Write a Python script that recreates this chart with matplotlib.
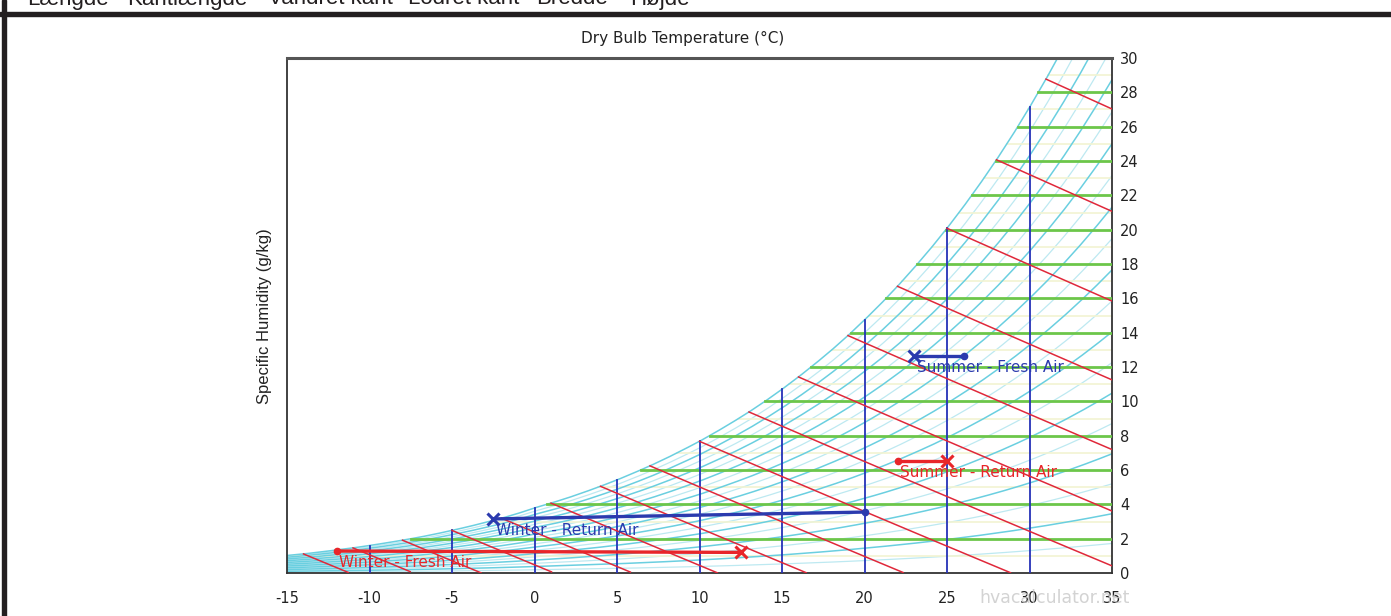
import numpy as np
import matplotlib
matplotlib.use("Agg")
import matplotlib.pyplot as plt
from matplotlib.patches import Rectangle

plt.rcParams["axes.unicode_minus"] = False

# --- saturation table (g/kg at sea level) ---
sat_temp = np.arange(-15, 36, 1)
sat_w = [1.02, 1.11, 1.22, 1.34, 1.46, 1.60, 1.75, 1.91, 2.08, 2.27,
         2.48, 2.70, 2.94, 3.19, 3.47, 3.79, 4.07, 4.37, 4.70, 5.05,
         5.42, 5.82, 6.24, 6.69, 7.17, 7.67, 8.21, 8.78, 9.38, 10.02,
         10.70, 11.42, 12.18, 12.98, 13.83, 14.74, 15.69, 16.70, 17.77, 18.89,
         20.08, 21.34, 22.67, 24.07, 25.55, 27.12, 28.77, 30.51, 32.35, 34.29,
         36.34]

rh_levels = [10, 20, 30, 40, 50, 60, 70, 80, 90, 100]
rh_half_levels = [5, 15, 25, 35, 45, 55, 65, 75, 85, 95]
dry_bulb_lines = [-10, -5, 0, 5, 10, 15, 20, 25, 30]
humidity_lines = [2, 4, 6, 8, 10, 12, 14, 16, 18, 20, 22, 24, 26, 28]
humidity_faint = [1, 3, 5, 7, 9, 11, 13, 15, 17, 19, 21, 23, 25, 27, 29]
wet_bulb_lines = [-14, -11, -8, -5, -2, 1, 4, 7, 10, 13, 16, 19, 22, 25, 28, 31]

# processes: dot end, cross end
proc_names = ["Winter - Fresh Air", "Winter - Return Air",
              "Summer - Fresh Air", "Summer - Return Air"]
proc_dot_t = [-12.0, 20.0, 26.0, 22.0]
proc_dot_w = [1.28, 3.55, 12.65, 6.55]
proc_x_t = [12.5, -2.5, 23.0, 25.0]
proc_x_w = [1.20, 3.15, 12.65, 6.55]
proc_colors = ["#e8262a", "#2b3aae", "#2b3aae", "#e8262a"]
proc_label_at = ["dot", "x", "x", "dot"]

top_words = ["Længde", "Kantlængde", "Vandret kant", "Lodret kant", "Bredde", "Højde"]
top_word_x = [27, 127, 268, 408, 536, 630]

P = 101.325
sat_t_fine = np.linspace(-15, 35, 501)
ws_fine = np.interp(sat_t_fine, sat_temp, sat_w)


def ws_at(t):
    return np.interp(t, sat_temp, sat_w)


def rh_curve(phi):
    pws = ws_fine * P / (622.0 + ws_fine)
    pw = phi / 100.0 * pws
    return 622.0 * pw / (P - pw)


def t_sat_for_w(w):
    return np.interp(w, sat_w, sat_temp)


fig = plt.figure(figsize=(13.91, 6.16), dpi=100)
W_PX, H_PX = 1391, 616

ax = fig.add_axes([287 / W_PX, 1 - 573 / H_PX, 825 / W_PX, 515 / H_PX])
ax.set_xlim(-15, 35)
ax.set_ylim(0, 30)

# relative humidity curves
for phi in rh_half_levels:
    ax.plot(sat_t_fine, rh_curve(phi), color="#bde9f1", lw=0.9, zorder=1)
for phi in rh_levels:
    ax.plot(sat_t_fine, rh_curve(phi), color="#6acfe0", lw=1.1, zorder=2)

# humidity lines
for w in humidity_faint:
    t0 = t_sat_for_w(w)
    ax.plot([t0, 35], [w, w], color="#f2f4d2", lw=1.2, zorder=1.5)
for w in humidity_lines:
    t0 = t_sat_for_w(w)
    ax.plot([t0, 35], [w, w], color="#6cc64a", lw=2.0, zorder=3)

# dry bulb lines
for t in dry_bulb_lines:
    ax.plot([t, t], [0, ws_at(t)], color="#2532b8", lw=1.3, zorder=4)

# wet bulb lines
for twb in wet_bulb_lines:
    tt = np.linspace(twb, 35, 200)
    wsw = ws_at(twb) / 1000.0
    w = ((2501 - 2.326 * twb) * wsw - 1.006 * (tt - twb)) / (2501 + 1.86 * tt - 4.186 * twb) * 1000
    keep = w >= 0
    ax.plot(tt[keep], w[keep], color="#e0283a", lw=1.1, zorder=4)

# processes
for i in range(len(proc_names)):
    c = proc_colors[i]
    ax.plot([proc_dot_t[i], proc_x_t[i]], [proc_dot_w[i], proc_x_w[i]], color=c, lw=2.4, zorder=6)
    ax.plot(proc_dot_t[i], proc_dot_w[i], "o", color=c, ms=4.5, zorder=7)
    ax.plot(proc_x_t[i], proc_x_w[i], "x", color=c, ms=8, mew=2.2, zorder=7)
    if proc_label_at[i] == "dot":
        lt, lw_ = proc_dot_t[i], proc_dot_w[i]
    else:
        lt, lw_ = proc_x_t[i], proc_x_w[i]
    ax.annotate(proc_names[i], (lt, lw_), xytext=(2, -3), textcoords="offset points",
                ha="left", va="top", color=c, fontsize=11, zorder=8)

# axes styling
ax.set_xticks(np.arange(-15, 36, 5))
ax.set_yticks(np.arange(0, 31, 2))
ax.yaxis.tick_right()
ax.tick_params(axis="both", length=0, labelsize=10.5, colors="#222222")
ax.tick_params(axis="x", pad=13)
ax.tick_params(axis="y", pad=6)
for s in ["left", "bottom", "right"]:
    ax.spines[s].set_color("#333333")
    ax.spines[s].set_linewidth(1.3)
ax.spines["top"].set_color("#555555")
ax.spines["top"].set_linewidth(2.2)

fig.text(683 / W_PX, 1 - 38 / H_PX, "Dry Bulb Temperature (°C)", ha="center", va="center",
         fontsize=11, color="#222222")
fig.text(265 / W_PX, 1 - 316 / H_PX, "Specific Humidity (g/kg)", rotation=90, ha="center",
         va="center", fontsize=12, family="Liberation Sans", color="#222222")
fig.text(1055 / W_PX, 1 - 598 / H_PX, "hvacalculator.net", ha="center", va="center",
         fontsize=12.5, color="#c8c8c8", alpha=0.8, zorder=10)

# frame of the surrounding window
fig.patches.append(Rectangle((0, 1 - 16 / H_PX), 1, 4 / H_PX, transform=fig.transFigure,
                             color="#231f20", zorder=0))
fig.patches.append(Rectangle((2 / W_PX, 0), 3.5 / W_PX, 1, transform=fig.transFigure,
                             color="#231f20", zorder=0))
for word, x in zip(top_words, top_word_x):
    fig.text(x / W_PX, 1 - 4.5 / H_PX, word, ha="left", va="baseline", fontsize=16,
             family="Liberation Sans", color="#231f20")

fig.savefig("out.png", dpi=100)
